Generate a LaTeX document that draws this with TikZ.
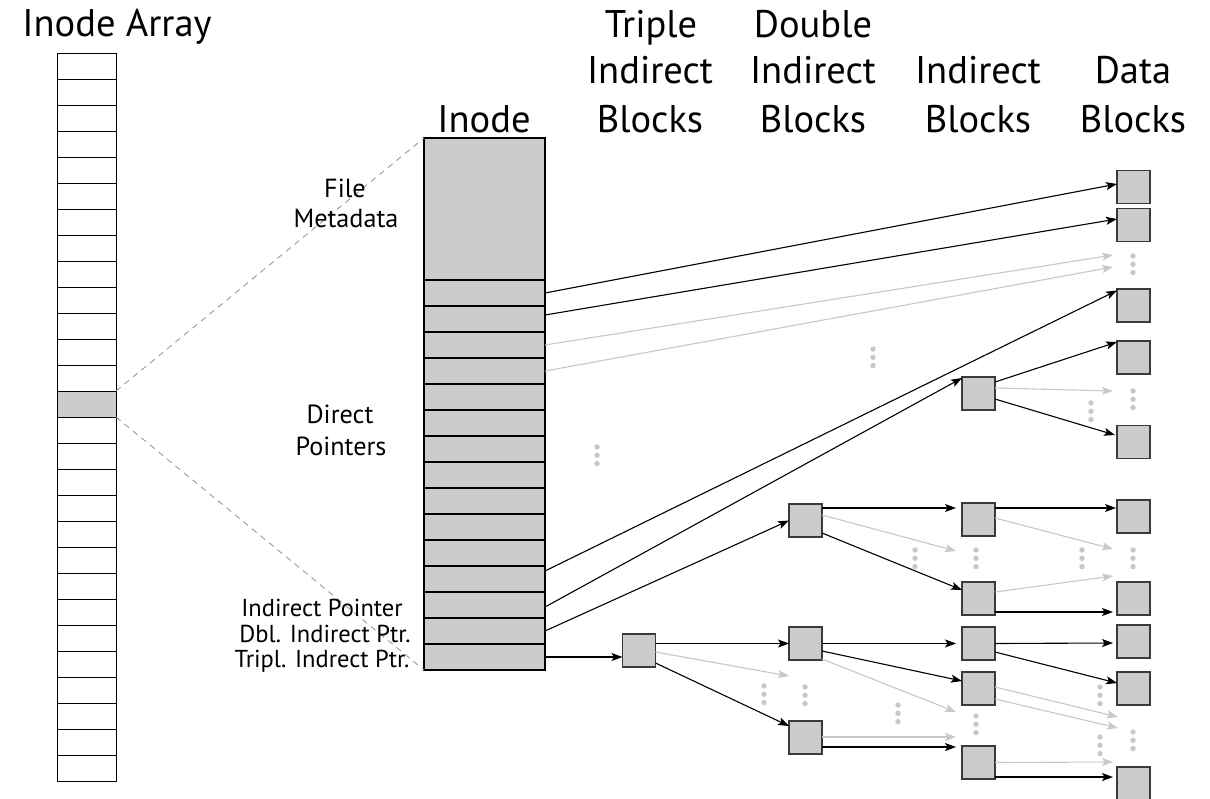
\documentclass[tikz,border=0pt]{standalone}
\usepackage{fontspec}
\setmainfont{PT Sans}
\usetikzlibrary{arrows.meta,calc}
\definecolor{boxfill}{HTML}{CCCCCC}
\definecolor{boxline}{HTML}{3A3A3A}
\definecolor{lgray}{HTML}{C8C8C8}
\definecolor{dgray}{HTML}{9A9A9A}
\newcommand\vdts[1]{\fill[lgray] (#1) circle (2.7pt) ++(0,8.3) circle (2.7pt) ++(0,8.3) circle (2.7pt);}
\begin{document}
\begin{tikzpicture}[x=1pt,y=-1pt,
 hd/.style={anchor=base,inner sep=0pt,font=\fontsize{38.5}{46}\selectfont},
 lbl/.style={anchor=base,inner sep=0pt,font=\fontsize{26.2}{30}\selectfont},
 lbs/.style={anchor=base,inner sep=0pt,font=\fontsize{24.5}{26}\selectfont},
 arow/.style={draw=black,line width=1pt,minimum width=59pt,minimum height=26pt,inner sep=0pt,outer sep=0pt},
 irow/.style={draw=black,fill=boxfill,line width=1.1pt,minimum width=121pt,minimum height=26pt,inner sep=0pt,outer sep=0pt},
 blk/.style={draw=boxline,fill=boxfill,line width=1.2pt,minimum size=33pt,inner sep=0pt,outer sep=0pt},
 arr/.style={-{Stealth[length=11pt,width=8pt,inset=2.5pt]},line width=1.1pt,black},
 garr/.style={arr,lgray},
 dashl/.style={dgray,line width=0.9pt,dash pattern=on 6pt off 5pt}]
\useasboundingbox (0,0) rectangle (1210,798);
\fill[white] (0,0) rectangle (1210,798);

% headers
\node[hd] (hIA) at (117,36) {Inode Array};
\node[hd] (hIn) at (484,132) {Inode};
\node[hd] (hT1) at (651,37) {Triple};
\node[hd] (hT2) at (650,83) {Indirect};
\node[hd] (hT3) at (650,132) {Blocks};
\node[hd] (hD1) at (813,37) {Double};
\node[hd] (hD2) at (813,83) {Indirect};
\node[hd] (hD3) at (813,132) {Blocks};
\node[hd] (hI2) at (978,83) {Indirect};
\node[hd] (hI3) at (978,132) {Blocks};
\node[hd] (hB2) at (1133,83) {Data};
\node[hd] (hB3) at (1133,132) {Blocks};

% inode array
\foreach \i in {0,...,27} \node[arow] (a\i) at (86.5,{66+26*\i}) {};
\node[arow,fill=boxfill] (a13) at (86.5,{66+26*13}) {};

% inode
\node[irow,minimum height=142pt] (meta) at (484.5,209) {};
\foreach \k in {1,...,15} \node[irow] (r\k) at (484.5,{293+26*(\k-1)}) {};

% dashed zoom lines
\draw[dashl] (a13.north east) -- (meta.north west);
\draw[dashl] (a13.south east) -- (r15.south west);

% labels
\node[lbl] (lF1) at (345,197) {File};
\node[lbl] (lF2) at (346,227) {Metadata};
\node[lbl] (lD1) at (340,423) {Direct};
\node[lbl] (lD2) at (341,455) {Pointers};
\node[lbs] (lP1) at (322,616) {Indirect Pointer};
\node[lbs] (lP2) at (325,642) {Dbl. Indirect Ptr.};
\node[lbs] (lP3) at (322,667) {Tripl. Indrect Ptr.};

% blocks
\node[blk] (T) at (639,650.5) {};
\node[blk] (D1) at (805.5,520.5) {};
\node[blk] (D2) at (805.5,643.5) {};
\node[blk] (D3) at (805.5,737.5) {};
\node[blk] (I0) at (978.5,393.5) {};
\node[blk] (I1) at (978.5,519.5) {};
\node[blk] (I2) at (978.5,598.5) {};
\node[blk] (I3) at (978.5,643.5) {};
\node[blk] (I4) at (978.5,688.5) {};
\node[blk] (I5) at (978.5,762.5) {};
\node[blk] (B1) at (1133.5,187) {};
\node[blk] (B2) at (1133.5,225) {};
\node[blk] (B3) at (1133.5,305.5) {};
\node[blk] (B4) at (1133.5,357.5) {};
\node[blk] (B5) at (1133.5,442) {};
\node[blk] (B6) at (1133.5,516.5) {};
\node[blk] (B7) at (1133.5,598.5) {};
\node[blk] (B8) at (1133.5,641.5) {};
\node[blk] (B9) at (1133.5,688.5) {};
\node[blk] (B10) at (1133.5,783.5) {};

% free ends of gray arrows
\coordinate (g1) at (1113,255);
\coordinate (g2) at (1113,267);
\coordinate (g3) at (1113,391);
\coordinate (g4) at (789,676);
\coordinate (g5) at (956,551);
\coordinate (g6) at (1113,549);
\coordinate (g7) at (1113,576);
\coordinate (g8) at (956,712);
\coordinate (g9) at (956,737);
\coordinate (g10) at (1118,717);
\coordinate (g11) at (1118,728);
\coordinate (g12) at (1113,762);

% direct pointers
\draw[arr] (r1.east) -- ([yshift=3pt]B1.west);
\draw[arr] ([yshift=4pt]r2.east) -- ([yshift=6pt]B2.west);
\draw[garr] (r3.east) -- (g1);
\draw[garr] (r4.east) -- (g2);
\draw[arr] ([yshift=8pt]r12.east) -- ([yshift=15pt]B3.west);
% indirect pointers
\draw[arr] ([yshift=-2pt]r13.east) -- ([yshift=-1pt]I0.north west);
\draw[arr] (r14.east) -- (D1.west);
\draw[arr] (r15.east) -- (r15.east -| T.west);

% single indirect block
\draw[arr] ([yshift=11.5pt]I0.east) -- ([yshift=15.5pt]B4.west);
\draw[garr] ([yshift=5.5pt]I0.east) -- (g3);
\draw[arr] ([yshift=-5.5pt]I0.east) -- ([yshift=7pt,xshift=-2pt]B5.west);

% triple indirect block
\draw[arr] (D2.west -| T.east) -- (D2.west);
\draw[garr] ([yshift=-1.5pt]T.east) -- (g4);
\draw[arr] ([yshift=-12.5pt]T.east) -- ([yshift=11.5pt]D3.west);

% double indirect D1
\draw[arr] ([yshift=12.5pt]D1.east) -- ([yshift=11.5pt,xshift=-6pt]I1.west);
\draw[garr] ([yshift=5.5pt]D1.east) -- (g5);
\draw[arr] ([yshift=-12.5pt]D1.east) -- ([yshift=8.5pt]I2.west);
% double indirect D2
\draw[arr] (D2.east) -- ([xshift=-6pt]I3.west);
\draw[arr] ([yshift=-7.5pt]D2.east) -- ([yshift=7.5pt]I4.west);
\draw[garr] ([yshift=-15.5pt]D2.east) -- (g8);
% double indirect D3
\draw[garr] ([yshift=0.5pt]D3.east) -- (g9);
\draw[arr] ([yshift=-9.5pt]D3.east) -- ([yshift=15.5pt,xshift=-6pt]I5.west);

% indirect I1
\draw[arr] ([yshift=11.5pt]I1.east) -- ([yshift=8.5pt,xshift=-1pt]B6.west);
\draw[garr] ([yshift=1.5pt]I1.east) -- (g6);
% indirect I2
\draw[garr] ([yshift=6.5pt]I2.east) -- (g7);
\draw[arr] ([yshift=-13.5pt]I2.east) -- ([yshift=-13.5pt,xshift=-4pt]B7.west);
% indirect I3
\draw[arr] (I3.east) -- ([yshift=-1.5pt,xshift=-4pt]B8.west);
\draw[arr] ([yshift=-8.5pt]I3.east) -- ([yshift=5.5pt]B9.west);
% indirect I4
\draw[garr] ([yshift=1.5pt]I4.east) -- (g10);
\draw[garr] ([yshift=-10.5pt]I4.east) -- (g11);
% indirect I5
\draw[garr] (I5.east) -- (g12);
\draw[arr] ([yshift=-14.5pt]I5.east) -- ([yshift=6.5pt,xshift=-4pt]B10.west);

% continuation dots
\vdts{597,447}
\vdts{1133,256}
\vdts{873,349}
\vdts{1091,403}
\vdts{1133,391}
\vdts{915,550}
\vdts{976,550}
\vdts{1082,550}
\vdts{1133,550}
\vdts{764,686}
\vdts{805,687}
\vdts{898,705}
\vdts{976,716}
\vdts{1100,687}
\vdts{1100,737}
\vdts{1133,732}
\end{tikzpicture}
\end{document}
